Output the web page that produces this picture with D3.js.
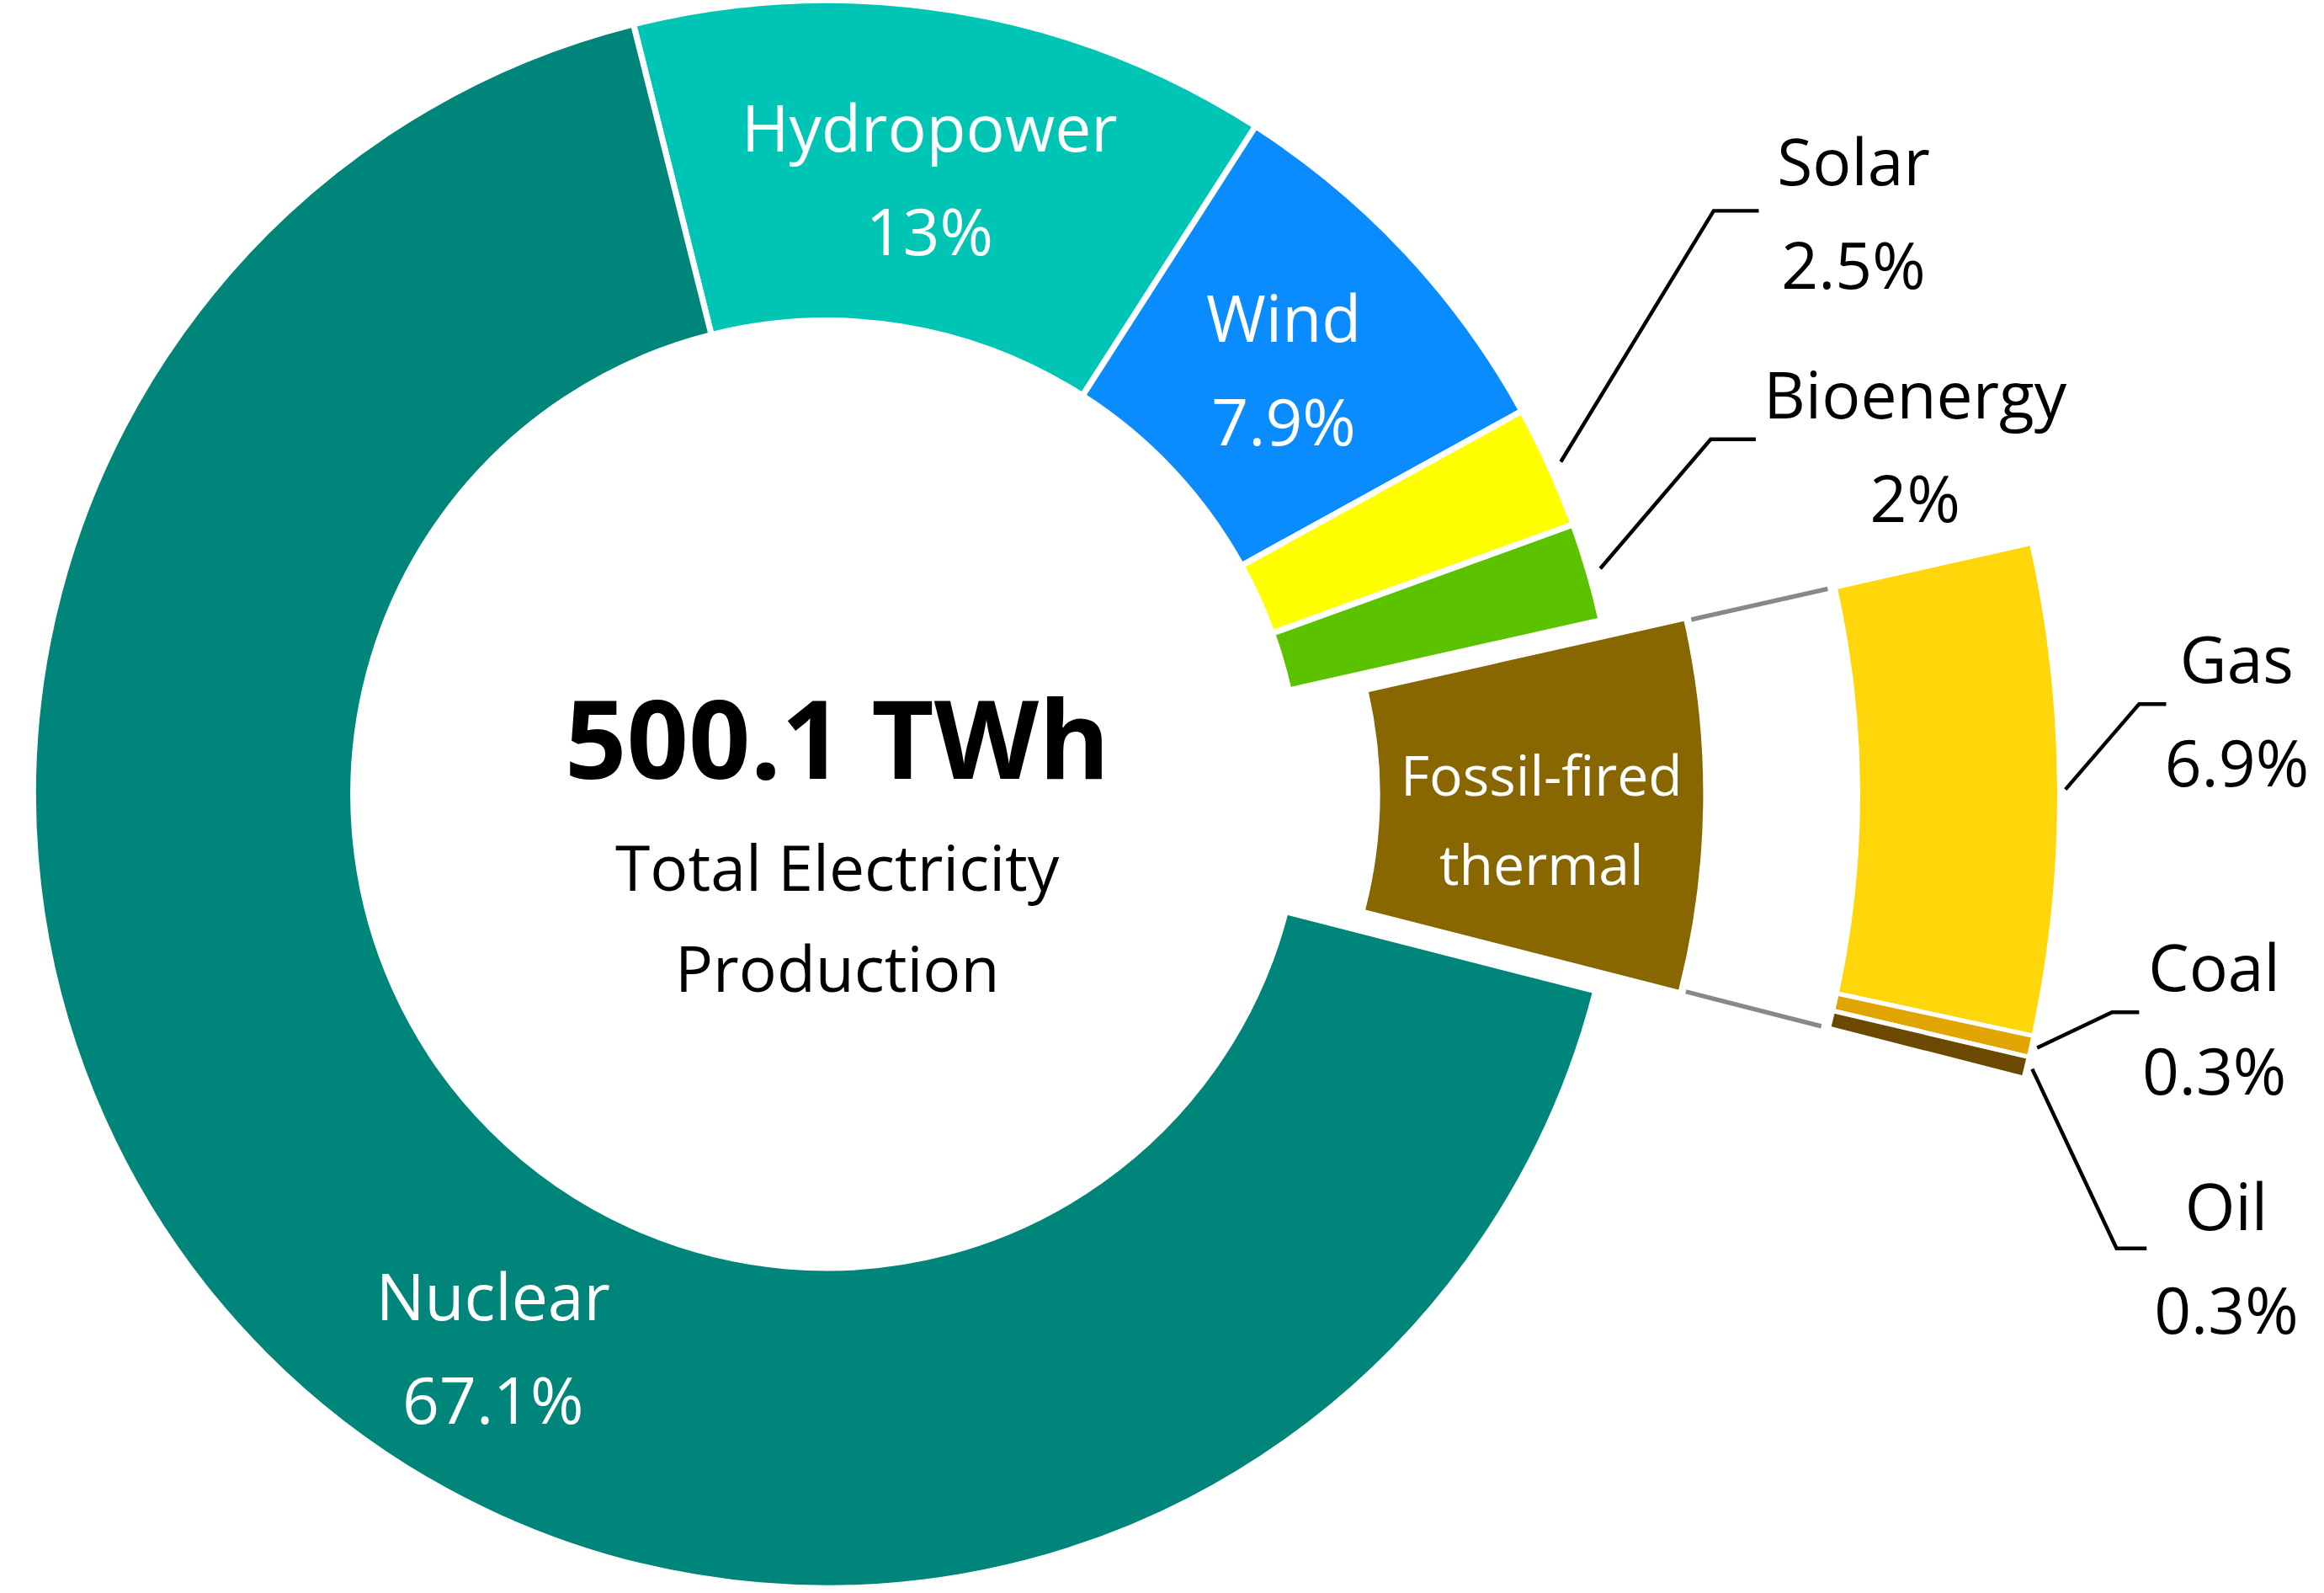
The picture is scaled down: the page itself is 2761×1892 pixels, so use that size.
<!DOCTYPE html>
<html><head><meta charset="utf-8">
<script src="https://cdn.jsdelivr.net/npm/d3@7"></script>
<style>body{margin:0;background:#fff}svg{display:block}</style>
</head><body>
<script>
// main ring
const sources = ["Hydropower", "Wind", "Solar", "Bioenergy", "Fossil-fired thermal", "Nuclear"];
const shares = [13, 7.9, 2.5, 2, 7.5, 67.1];
const colors = ["#00C5B5", "#0A8CFF", "#FFFF00", "#5BC200", "#886600", "#00857A"];
// fossil breakdown
const fossilNames = ["Gas", "Coal", "Oil"];
const fossilShares = [6.9, 0.3, 0.3];
const fossilColors = ["#FFD60A", "#E0A500", "#6B4A00"];
const total = "500.1 TWh";

const W = 1546, H = 1059;
const cx = 550, cy = 528;
const rad = d => d * Math.PI / 180;

const svg = d3.select("body").append("svg")
  .attr("width", 2761).attr("height", 1892)
  .attr("viewBox", [0, 0, W, H])
  .style("font-family", "'Open Sans', 'Noto Sans', sans-serif");

const pie = d3.pie().sort(null).startAngle(rad(-14.1)).endAngle(rad(345.9));
const arcs = pie(shares);
const ring = d3.arc().innerRadius(315).outerRadius(528);

const g = svg.append("g").attr("transform", `translate(${cx},${cy})`);
g.selectAll("path").data(arcs.filter((d, i) => i !== 4)).join("path")
  .attr("d", ring)
  .attr("fill", d => colors[d.index])
  .attr("stroke", "white").attr("stroke-width", 4);

// exploded fossil slice
const fos = arcs[4];
const shift = 58;
const fg = svg.append("g").attr("transform", `translate(${cx + shift},${cy})`);
const fossilArc = d3.arc().innerRadius(310).outerRadius(525);
fg.append("path").datum(fos).attr("d", fossilArc).attr("fill", colors[4]);

// breakdown bar
const bPie = d3.pie().sort(null).startAngle(fos.startAngle).endAngle(fos.endAngle);
const bArcs = bPie(fossilShares);
const bArc = d3.arc().innerRadius(628).outerRadius(762);
fg.selectAll(".b").data(bArcs).join("path")
  .attr("d", bArc).attr("fill", (d, i) => fossilColors[i])
  .attr("stroke", "white").attr("stroke-width", 3);

// connectors
const pt = (r, a) => [r * Math.sin(a), -r * Math.cos(a)];
[fos.startAngle, fos.endAngle].forEach(a => {
  const p0 = pt(530, a), p1 = pt(623, a);
  fg.append("line").attr("x1", p0[0]).attr("y1", p0[1]).attr("x2", p1[0]).attr("y2", p1[1])
    .attr("stroke", "#888").attr("stroke-width", 3);
});

const fs = 43;
function twoLine(parent, x, y, l1, l2, color, anchor = "middle", size = fs) {
  const t = parent.append("text").attr("x", x).attr("y", y).attr("fill", color)
    .attr("text-anchor", anchor).attr("font-size", size);
  t.append("tspan").attr("x", x).attr("dy", 0).text(l1);
  t.append("tspan").attr("x", x).attr("dy", size * 1.6).text(l2);
}

// inside labels (centroid-based)
const lab = d3.arc().innerRadius(423).outerRadius(423);
[[0, 0, 30], [1, -5, 28]].forEach(([i, dx, dy]) => {
  const c = lab.centroid(arcs[i]);
  twoLine(g, c[0] + dx, c[1] + dy - 40, sources[i], shares[i] + "%", "white");
});
twoLine(g, -222, 350, "Nuclear", shares[5] + "%", "white");
const fc = fossilArc.centroid(fos);
twoLine(fg, fc[0], fc[1] - 5, "Fossil-fired", "thermal", "white", "middle", 37);

// outside labels with leader lines
function leader(parent, p, elbow, end, text, pct, tx, ty) {
  parent.append("polyline").attr("points", [p, elbow, end].map(q => q.join(",")).join(" "))
    .attr("fill", "none").attr("stroke", "black").attr("stroke-width", 2.5);
  twoLine(parent, tx, ty, text, pct, "black");
}
const outer = (r, d) => pt(r, (d.startAngle + d.endAngle) / 2);
{
  const p = outer(536, arcs[2]);
  leader(g, p, [590, -388], [620, -388], "Solar", "2.5%", 683, -405);
  const q = outer(536, arcs[3]);
  leader(g, q, [588, -236], [618, -236], "Bioenergy", "2%", 724, -250);
}
{
  const gp = outer(766, bArcs[0]);
  leader(fg, gp, [815, -60], [833, -60], "Gas", "6.9%", 880, -74);
  const cp = outer(766, bArcs[1]);
  leader(fg, cp, [797, 145], [815, 145], "Coal", "0.3%", 865, 131);
  const op = outer(766, bArcs[2]);
  leader(fg, op, [800, 302], [820, 302], "Oil", "0.3%", 873, 290);
}

// center text
svg.append("text").attr("x", 557).attr("y", 518).attr("text-anchor", "middle")
  .attr("font-size", 72).attr("font-weight", "bold").text(total);
twoLine(svg, 557, 592, "Total Electricity", "Production", "black", "middle", 42);
</script>
</body></html>
